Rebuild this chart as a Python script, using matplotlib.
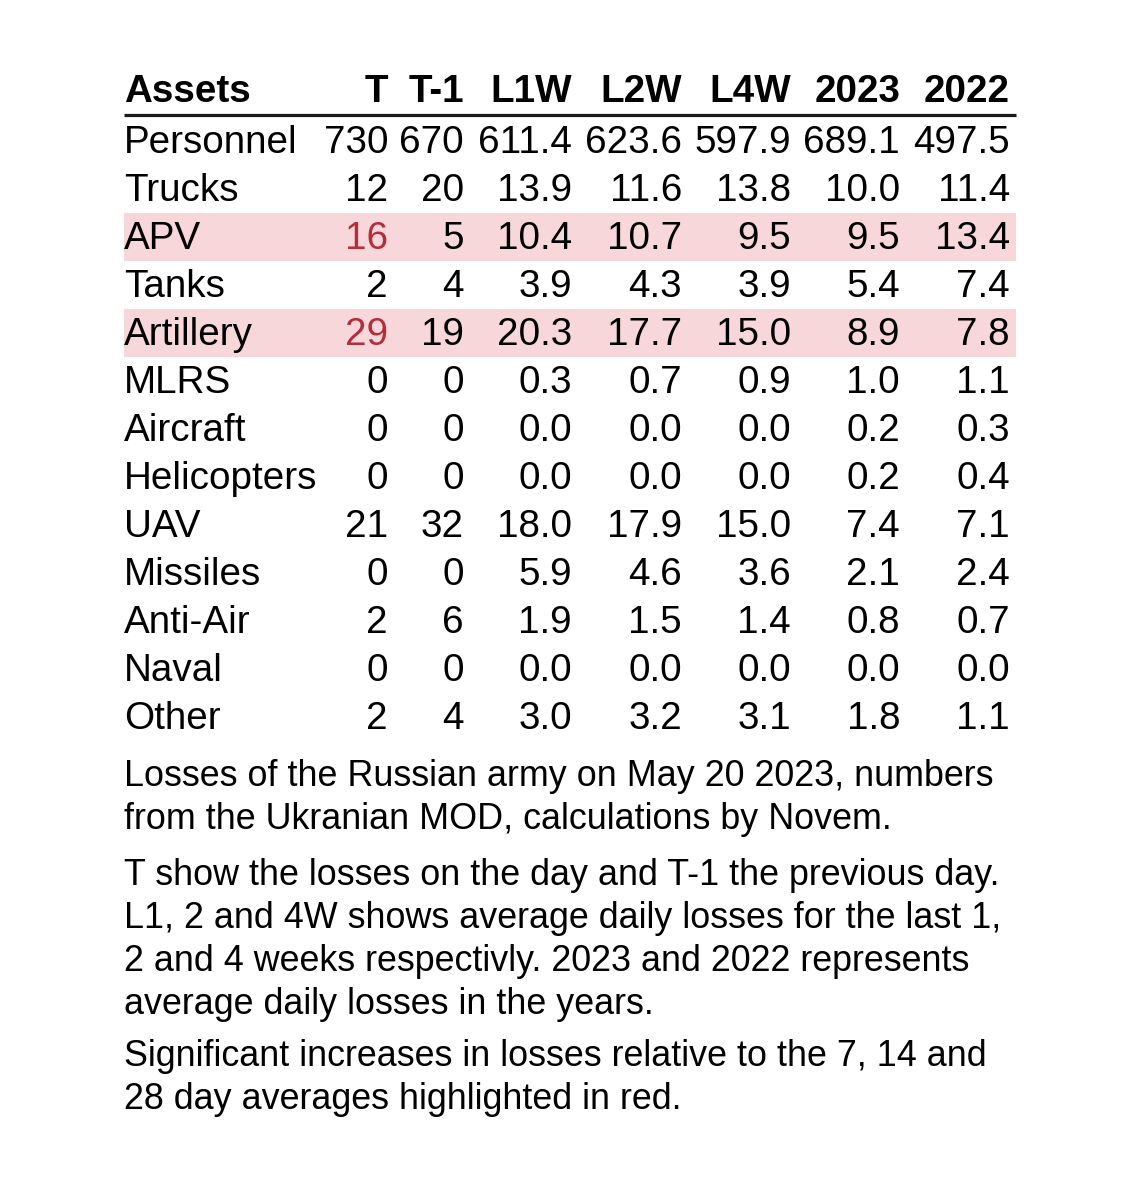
import matplotlib
matplotlib.use("Agg")
import matplotlib.pyplot as plt
from matplotlib.patches import Rectangle

plt.rcParams['font.family'] = ['Liberation Sans', 'DejaVu Sans']

# data
assets = ['Personnel', 'Trucks', 'APV', 'Tanks', 'Artillery', 'MLRS', 'Aircraft',
          'Helicopters', 'UAV', 'Missiles', 'Anti-Air', 'Naval', 'Other']
columns = ['T', 'T-1', 'L1W', 'L2W', 'L4W', '2023', '2022']
t_day = [730, 12, 16, 2, 29, 0, 0, 0, 21, 0, 2, 0, 2]
t_prev = [670, 20, 5, 4, 19, 0, 0, 0, 32, 0, 6, 0, 4]
l1w = [611.4, 13.9, 10.4, 3.9, 20.3, 0.3, 0.0, 0.0, 18.0, 5.9, 1.9, 0.0, 3.0]
l2w = [623.6, 11.6, 10.7, 4.3, 17.7, 0.7, 0.0, 0.0, 17.9, 4.6, 1.5, 0.0, 3.2]
l4w = [597.9, 13.8, 9.5, 3.9, 15.0, 0.9, 0.0, 0.0, 15.0, 3.6, 1.4, 0.0, 3.1]
y2023 = [689.1, 10.0, 9.5, 5.4, 8.9, 1.0, 0.2, 0.2, 7.4, 2.1, 0.8, 0.0, 1.8]
y2022 = [497.5, 11.4, 13.4, 7.4, 7.8, 1.1, 0.3, 0.4, 7.1, 2.4, 0.7, 0.0, 1.1]
highlight_rows = ['APV', 'Artillery']
red_cells = [('APV', 'T'), ('Artillery', 'T')]

notes = [
    "Losses of the Russian army on May 20 2023, numbers\nfrom the Ukranian MOD, calculations by Novem.",
    "T show the losses on the day and T-1 the previous day.\nL1, 2 and 4W shows average daily losses for the last 1,\n"
    "2 and 4 weeks respectivly. 2023 and 2022 represents\naverage daily losses in the years.",
    "Significant increases in losses relative to the 7, 14 and\n28 day averages highlighted in red.",
]

# layout (pixels)
W, H = 1140, 1182
left, right = 124, 1016
col_right = [388, 464, 572, 682, 791, 900, 1010]
header_base = 102
row0_base = 153
row_h = 48
fs = 27.8
pink = '#f8d7da'
red = '#b32d3b'

fig = plt.figure(figsize=(W / 100, H / 100), dpi=100)
ax = fig.add_axes([0, 0, 1, 1])
ax.set_xlim(0, W)
ax.set_ylim(H, 0)
ax.axis('off')

series = [t_day, t_prev, l1w, l2w, l4w, y2023, y2022]

# header
ax.text(left, header_base, 'Assets', fontsize=fs, fontweight='bold', va='baseline', ha='left')
for c, name in enumerate(columns):
    ax.text(col_right[c], header_base, name, fontsize=fs, fontweight='bold', va='baseline', ha='right')
ax.plot([left, right], [115, 115], color='#1a1a1a', lw=2.3, solid_capstyle='butt')

# rows
for i, a in enumerate(assets):
    base = row0_base + i * row_h
    if a in highlight_rows:
        ax.add_patch(Rectangle((left, base - 36), right - left, row_h, color=pink, lw=0, zorder=0))
    ax.text(left, base, a, fontsize=fs, va='baseline', ha='left')
    for c, name in enumerate(columns):
        v = series[c][i]
        s = str(v) if c < 2 else f"{v:.1f}"
        col = red if (a, name) in red_cells else 'black'
        ax.text(col_right[c], base, s, fontsize=fs, va='baseline', ha='right', color=col)

# notes
note_top = [786, 885, 1066]
for top, txt in zip(note_top, notes):
    lines = txt.split('\n')
    for k, ln in enumerate(lines):
        ax.text(left, top + k * 43, ln, fontsize=25.8, va='baseline', ha='left')

fig.savefig('out.png', dpi=100, facecolor='white')
